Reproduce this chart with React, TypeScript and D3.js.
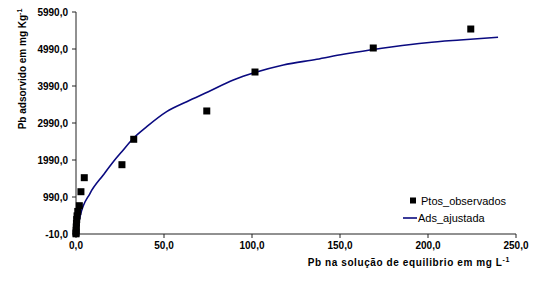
import React from 'react'
import * as d3 from 'd3'

// observed points (Pb in solution, Pb adsorbed)
const obsX = [0.01, 0.03, 0.08, 0.15, 0.25, 0.4, 0.6, 1.0, 1.9, 2.8, 4.7, 26.1, 32.8, 74.3, 101.7, 168.9, 224.3]
const obsY = [-5, 20, 90, 180, 280, 380, 480, 600, 755, 1133, 1512, 1863, 2550, 3315, 4368, 5017, 5530]

// fitted curve
const fitX = [1.1, 2.3, 8.0, 15.5, 21.2, 26.0, 32.6, 40.2, 51.5, 62.9, 75.2, 89.4, 102.1, 117.8, 136.8, 151.9, 167.0, 180.1, 199.3, 218.2, 239.8]
const fitY = [152, 458, 1090, 1585, 1944, 2214, 2577, 2890, 3296, 3566, 3836, 4152, 4360, 4558, 4712, 4847, 4963, 5052, 5160, 5233, 5306]

const xTicks = [0, 50, 100, 150, 200, 250]
const yTicks = [-10, 990, 1990, 2990, 3990, 4990, 5990]

const W = 542
const H = 281
const margin = { top: 12, right: 26, bottom: 47, left: 76 }

const fmt = (v: number) => d3.format('.1f')(v).replace('.', ',').replace('−', '-')

export default function App() {
  const x = d3.scaleLinear().domain([0, 250]).range([margin.left, W - margin.right])
  const y = d3.scaleLinear().domain([-10, 5990]).range([H - margin.bottom, margin.top])

  const fitPts = fitX.map((v, i) => [v, fitY[i]] as [number, number])
  const line = d3.line<[number, number]>()
    .x(d => x(d[0]))
    .y(d => y(d[1]))
    .curve(d3.curveMonotoneX)

  const font = '"Liberation Sans", Arial, sans-serif'
  const y0 = y(-10)

  return (
    <svg width={W} height={H} style={{ position: 'absolute', left: 0, top: 0, background: '#fff' }} fontFamily={font}>
      {/* axes */}
      <line x1={x(0)} x2={x(250)} y1={y0} y2={y0} stroke="#222" strokeWidth={1} />
      <line x1={x(0)} x2={x(0)} y1={y(5990)} y2={y0} stroke="#222" strokeWidth={1} />
      {xTicks.map(t => (
        <g key={t}>
          <line x1={x(t)} x2={x(t)} y1={y0} y2={y0 + 4} stroke="#222" />
          <text x={x(t)} y={y0 + 15} textAnchor="middle" fontSize={10} fontWeight="bold" fill="#000">{fmt(t)}</text>
        </g>
      ))}
      {yTicks.map(t => (
        <g key={t}>
          <line x1={x(0) - 4} x2={x(0)} y1={y(t)} y2={y(t)} stroke="#222" />
          <text x={x(0) - 8} y={y(t)} dy="0.35em" textAnchor="end" fontSize={10} fontWeight="bold" fill="#000">{fmt(t)}</text>
        </g>
      ))}

      {/* axis titles */}
      <text x={510} y={266} textAnchor="end" fontSize={10} fontWeight="bold" letterSpacing={0.6} fill="#000">
        Pb na solução de equilibrio em mg L<tspan dy={-4} fontSize={7}>-1</tspan>
      </text>
      <text transform={`translate(26,69) rotate(-90)`} textAnchor="middle" fontSize={10} fontWeight="bold" fill="#000">
        Pb adsorvido em mg Kg<tspan dy={-4} fontSize={7}>-1</tspan>
      </text>

      {/* fitted curve */}
      <path d={line(fitPts) ?? ''} fill="none" stroke="#0a0a80" strokeWidth={1.6} />

      {/* observed points */}
      {obsX.map((v, i) => (
        <rect key={i} x={x(v) - 3.5} y={y(obsY[i]) - 3.5} width={7} height={7} fill="#000" />
      ))}

      {/* legend */}
      <rect x={410} y={197.5} width={6} height={6} fill="#000" />
      <text x={421} y={201} dy="0.35em" fontSize={11} fill="#000">Ptos_observados</text>
      <line x1={403} x2={417} y1={218} y2={218} stroke="#0a0a80" strokeWidth={1.6} />
      <text x={418} y={218} dy="0.35em" fontSize={11} fill="#000">Ads_ajustada</text>
    </svg>
  )
}
